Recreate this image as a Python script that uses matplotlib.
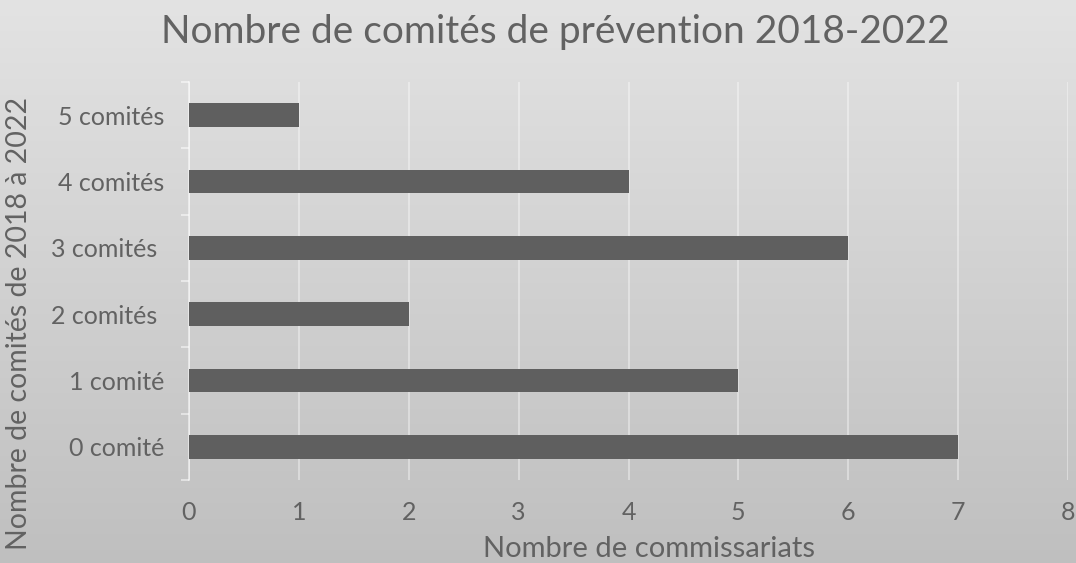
import numpy as np
from matplotlib import pyplot as plt

# data
categories = ["0 comité", "1 comité", "2 comités ", "3 comités ", "4 comités", "5 comités"]
counts = [7, 5, 2, 6, 4, 1]
x_ticks = [0, 1, 2, 3, 4, 5, 6, 7, 8]

TEXT = "#626262"
BAR = "#5f5f5f"
FONT = ["Lato", "DejaVu Sans"]

plt.rcParams['font.family'] = FONT
plt.rcParams['font.weight'] = 'normal'

W, H = 1076, 563
fig = plt.figure(figsize=(W / 100, H / 100), dpi=100)

# gradient background, light at top and darker at bottom
bg = fig.add_axes([0, 0, 1, 1], zorder=-10)
grad = np.linspace(0, 1, 256).reshape(-1, 1)
top = np.array([0.89, 0.89, 0.89])
bot = np.array([0.75, 0.75, 0.75])
img = top + (bot - top) * grad[..., None]
bg.imshow(img, aspect="auto", extent=[0, 1, 0, 1])
bg.axis("off")

ax = fig.add_axes([189 / W, 1 - 480 / H, (1068 - 189) / W, (480 - 82) / H])
ax.patch.set_alpha(0)

y = np.arange(len(categories))
ax.barh(y, counts, height=0.36, color=BAR, zorder=3)

ax.set_xlim(0, 8)
ax.set_ylim(-0.5, len(categories) - 0.5)
ax.set_xticks(x_ticks)
ax.set_yticks(y)
ax.set_yticklabels(categories)
ax.set_yticks(np.arange(-0.5, len(categories)), minor=True)

ax.grid(axis="x", color="white", alpha=0.45, linewidth=1.2, zorder=0)
for s in ["top", "right", "bottom"]:
    ax.spines[s].set_visible(False)
ax.spines["left"].set_color("white")
ax.spines["left"].set_alpha(0.6)
ax.spines["left"].set_linewidth(1.2)

ax.tick_params(axis="x", length=0, pad=15, labelsize=18, labelcolor=TEXT)
ax.tick_params(axis="y", which="major", length=0, pad=18, labelsize=18, labelcolor=TEXT)
ax.tick_params(axis="y", which="minor", length=6, width=1.2, color=(1, 1, 1, 0.6))

fig.text(555 / W, 1 - 32 / H, "Nombre de comités de prévention 2018-2022",
         ha="center", va="center", fontsize=28, color=TEXT)
fig.text(649 / W, 1 - 549 / H, "Nombre de commissariats",
         ha="center", va="center", fontsize=21, color=TEXT)
fig.text(19 / W, 1 - 323 / H, "Nombre de comités de 2018 à 2022",
         ha="center", va="center", rotation=90, fontsize=20.5, color=TEXT)

fig.savefig("out.png", dpi=100)
